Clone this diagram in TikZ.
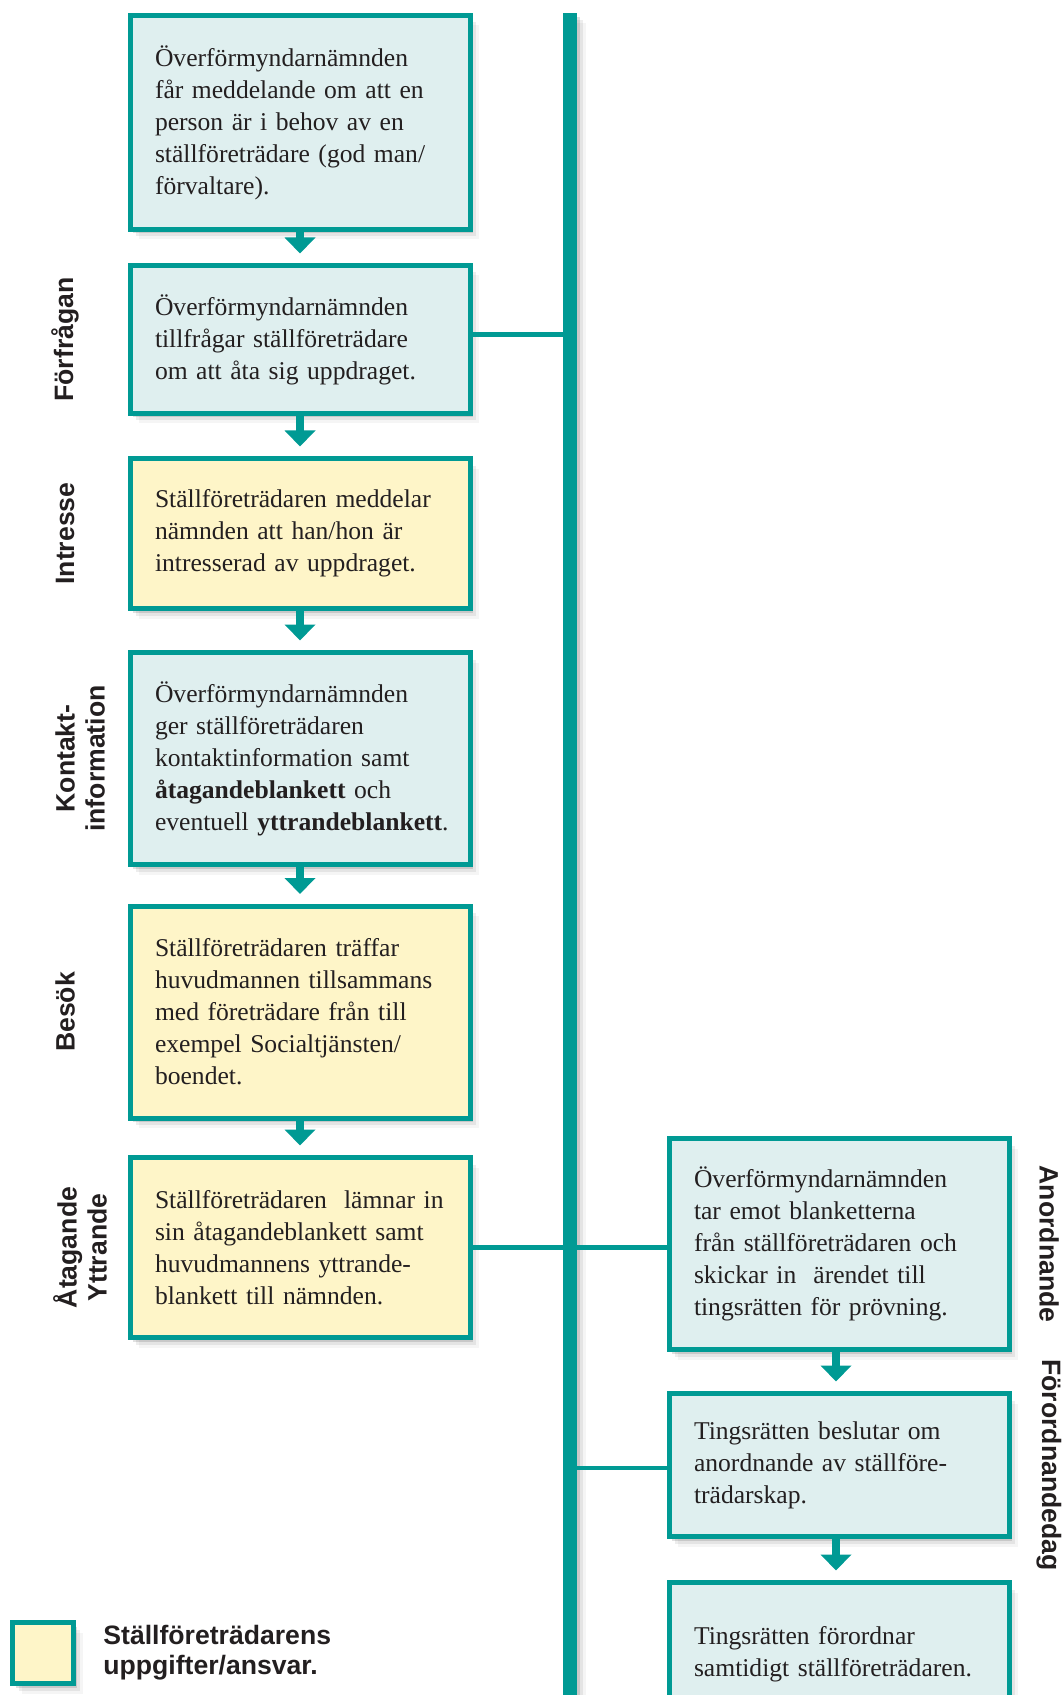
\documentclass[tikz,border=0pt]{standalone}
\usepackage{fontspec}
\setmainfont{Liberation Serif}
\setsansfont{Liberation Sans}
\usetikzlibrary{shadows,arrows.meta}
\definecolor{tealline}{RGB}{0,154,148}
\definecolor{boxblue}{RGB}{223,239,239}
\definecolor{boxyellow}{RGB}{254,245,200}
\definecolor{inkgrey}{RGB}{35,31,32}

\begin{document}
\begin{tikzpicture}[x=.5pt,y=-.5pt,
  soft/.style={drop shadow={shadow xshift=1.5pt,shadow yshift=-2pt,opacity=.12,fill=black},
               drop shadow={shadow xshift=3pt,shadow yshift=-3.5pt,opacity=.07,fill=black},
               drop shadow={shadow xshift=4.5pt,shadow yshift=-5pt,opacity=.04,fill=black}},
  box/.style={soft,draw=tealline,line width=2.5pt,fill=boxblue,minimum width=170pt,
              text width=145pt,align=left,text=inkgrey,font=\fontsize{12.8}{16}\selectfont},
  task/.style={box,fill=boxyellow},
  phase/.style={font=\sffamily\bfseries\fontsize{13.3}{15}\selectfont,align=center,text=inkgrey},
  flow/.style={tealline,line width=4pt,-{Triangle[width=15pt,length=8pt]},shorten >=4.75pt},
  link/.style={tealline,line width=2.2pt},
  bar/.style={soft,fill=tealline,minimum width=7pt,minimum height=843.5pt,inner sep=0pt}]
\useasboundingbox (0,0) rectangle (1064,1695);

\node[bar] (bar) at (570,856.5) {};

\node[box,minimum height=107pt] (ask) at (300,122.5)
  {Överförmyndarnämnden\\får meddelande om att en\\person är i behov av en\\ställföreträdare (god man/\\förvaltare).};
\node[box,minimum height=74pt] (request) at (300,339.5)
  {Överförmyndarnämnden\\tillfrågar ställföreträdare\\om att åta sig uppdraget.};
\node[task,minimum height=75pt] (interest) at (300,533.5)
  {Ställföreträdaren meddelar\\nämnden att han/hon är\\intresserad av uppdraget.};
\node[box,minimum height=106pt] (contact) at (300,758.5)
  {Överförmyndarnämnden\\ger ställföreträdaren\\kontaktinformation samt\\\textbf{åtagandeblankett} och\\\mbox{eventuell \textbf{yttrandeblankett}.}};
\node[task,minimum height=106pt] (visit) at (300,1012)
  {Ställföreträdaren träffar\\huvudmannen tillsammans\\med företrädare från till\\exempel Socialtjänsten/\\boendet.};
\node[task,minimum height=90pt] (commit) at (300,1247.5)
  {\mbox{Ställföreträdaren\ \ lämnar in}\\sin åtagandeblankett samt\\huvudmannens yttrande-\\blankett till nämnden.};

\node[box,minimum height=105.5pt] (board) at (839,1244)
  {Överförmyndarnämnden\\tar emot blanketterna\\från ställföreträdaren och\\skickar in~~ärendet till\\tingsrätten för prövning.};
\node[box,minimum height=71.5pt] (court) at (839,1465)
  {Tingsrätten beslutar om\\anordnande av ställföre-\\trädarskap.};
\node[box,minimum height=71.5pt] (appoint) at (839,1654)
  {Tingsrätten förordnar\\samtidigt ställföreträdaren.};

\draw[flow] (ask) -- (request);
\draw[flow] (request) -- (interest);
\draw[flow] (interest) -- (contact);
\draw[flow] (contact) -- (visit);
\draw[flow] (visit) -- (commit);
\draw[flow] ([xshift=-1.5pt]board.south) -- ([xshift=-1.5pt]court.north);
\draw[flow] ([xshift=-1.5pt]court.south) -- ([xshift=-1.5pt]appoint.north);

\draw[link] ([yshift=2.5pt]request.east) -- ([yshift=2.5pt]request.east -| bar.center);
\draw[link] (commit.east) -- (commit.east -| board.west);
\draw[link] ([yshift=-1.5pt]court.west -| bar.center) -- ([yshift=-1.5pt]court.west);

\node[phase,rotate=90] (p1) at (65,339.5) {Förfrågan};
\node[phase,rotate=90] (p2) at (65,533.5) {Intresse};
\node[phase,rotate=90] (p3) at (80,758.5) {Kontakt-\\information};
\node[phase,rotate=90] (p4) at (65,1012) {Besök};
\node[phase,rotate=90] (p5) at (80,1247.5) {Åtagande\\Yttrande};
\node[phase,rotate=-90] (p6) at (1049,1244) {Anordnande};
\node[phase,rotate=-90] (p7) at (1049,1465) {Förordnandedag};

\node[soft,draw=tealline,line width=2.5pt,fill=boxyellow,minimum size=30.5pt,inner sep=0pt] (key) at (43,1653) {};
\node[phase,align=left,anchor=west,inner xsep=0pt] (keytext) at (103,1653) {Ställföreträdarens\\uppgifter/ansvar.};
\end{tikzpicture}
\end{document}
